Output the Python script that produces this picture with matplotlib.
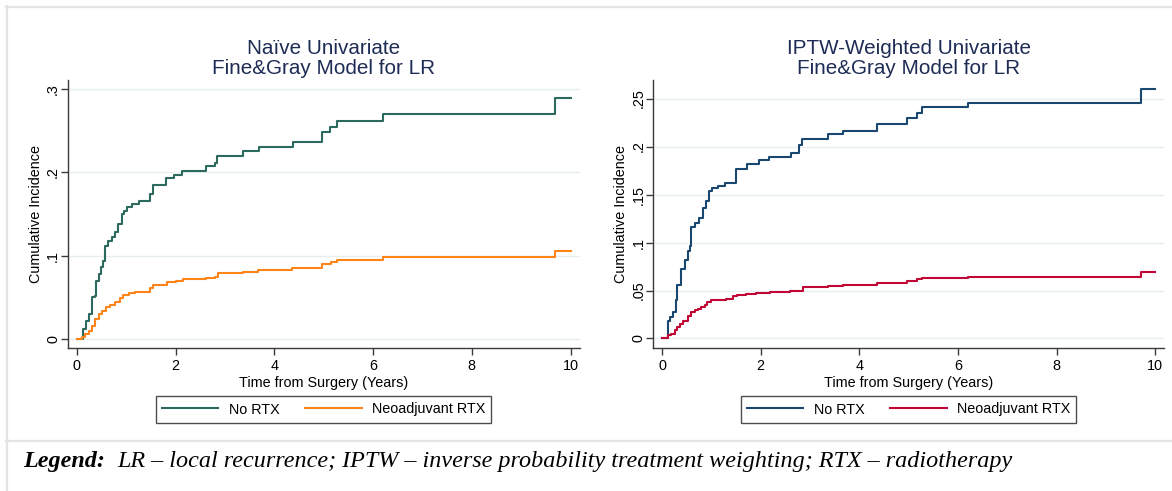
import matplotlib
matplotlib.use("Agg")
import matplotlib.pyplot as plt
from matplotlib.lines import Line2D

# ---- data (time in years, cumulative incidence) ----
naive_t_no = [0, 0.08, 0.12, 0.19, 0.24, 0.31, 0.37, 0.39, 0.44, 0.49, 0.53, 0.58, 0.64,
              0.71, 0.78, 0.83, 0.92, 0.96, 1.02, 1.12, 1.27, 1.48, 1.54, 1.80, 1.97, 2.14,
              2.61, 2.80, 2.85, 3.37, 3.70, 4.37, 4.96, 5.13, 5.27, 6.20, 9.69, 10.0]
naive_v_no = [0, 0, 0.012, 0.022, 0.030, 0.050, 0.052, 0.070, 0.078, 0.086, 0.094, 0.112,
              0.118, 0.122, 0.128, 0.138, 0.150, 0.154, 0.158, 0.162, 0.165, 0.174, 0.185,
              0.193, 0.197, 0.202, 0.207, 0.211, 0.220, 0.225, 0.230, 0.236, 0.248, 0.254,
              0.262, 0.270, 0.289, 0.289]

naive_t_neo = [0, 0.07, 0.10, 0.17, 0.24, 0.31, 0.37, 0.44, 0.51, 0.59, 0.68, 0.78, 0.87,
               0.94, 1.05, 1.17, 1.49, 1.55, 1.82, 2.00, 2.16, 2.62, 2.80, 2.86, 3.36, 3.68,
               4.35, 4.96, 5.15, 5.27, 6.20, 9.69, 10.0]
naive_v_neo = [0, 0, 0.002, 0.006, 0.010, 0.016, 0.024, 0.030, 0.034, 0.039, 0.041, 0.045,
               0.049, 0.053, 0.055, 0.057, 0.061, 0.065, 0.068, 0.070, 0.072, 0.073, 0.075,
               0.079, 0.080, 0.083, 0.085, 0.090, 0.092, 0.095, 0.098, 0.106, 0.106]

iptw_t_no = [0, 0.09, 0.12, 0.17, 0.22, 0.28, 0.31, 0.39, 0.46, 0.53, 0.56, 0.58, 0.67,
             0.75, 0.83, 0.90, 0.95, 1.02, 1.14, 1.27, 1.51, 1.72, 1.97, 2.16, 2.62, 2.78,
             2.84, 3.37, 3.67, 4.36, 4.97, 5.16, 5.27, 6.20, 9.70, 10.0]
iptw_v_no = [0, 0, 0.0185, 0.022, 0.028, 0.040, 0.056, 0.072, 0.082, 0.091, 0.096, 0.116,
             0.120, 0.126, 0.136, 0.143, 0.154, 0.157, 0.159, 0.162, 0.177, 0.182, 0.186,
             0.1895, 0.193, 0.202, 0.208, 0.213, 0.216, 0.223, 0.230, 0.235, 0.241, 0.245,
             0.260, 0.260]

iptw_t_neo = [0, 0.09, 0.12, 0.19, 0.26, 0.31, 0.36, 0.43, 0.53, 0.58, 0.67, 0.73, 0.80,
              0.87, 0.92, 1.00, 1.29, 1.44, 1.53, 1.70, 1.90, 2.19, 2.60, 2.78, 2.85, 3.37,
              3.67, 4.35, 4.97, 5.17, 5.27, 6.20, 9.70, 10.0]
iptw_v_neo = [0, 0, 0.0035, 0.005, 0.009, 0.012, 0.015, 0.0185, 0.023, 0.028, 0.030, 0.031,
              0.033, 0.035, 0.0385, 0.040, 0.041, 0.044, 0.045, 0.046, 0.047, 0.048, 0.049,
              0.0495, 0.0535, 0.055, 0.056, 0.0578, 0.060, 0.062, 0.063, 0.064, 0.069, 0.069]

x_ticks = [0, 2, 4, 6, 8, 10]
naive_yticks = [0, 0.1, 0.2, 0.3]
naive_ylabels = ["0", ".1", ".2", ".3"]
iptw_yticks = [0, 0.05, 0.1, 0.15, 0.2, 0.25]
iptw_ylabels = ["0", ".05", ".1", ".15", ".2", ".25"]

series_names = ["No RTX", "Neoadjuvant RTX"]
titles = ["Naïve Univariate\nFine&Gray Model for LR",
          "IPTW-Weighted Univariate\nFine&Gray Model for LR"]
footnote_bold = "Legend:"
footnote_rest = "LR – local recurrence; IPTW – inverse probability treatment weighting; RTX – radiotherapy"

plt.rcParams['font.family'] = ['Liberation Sans', 'DejaVu Sans']

W, H = 1172, 491
fig = plt.figure(figsize=(W / 100, H / 100), dpi=100)
fig.patch.set_facecolor("white")

def px(x0, y0, x1, y1):
  # pixel box (top-left origin) -> figure fraction rect
  return [x0 / W, (H - y1) / H, (x1 - x0) / W, (y1 - y0) / H]

panels = [
  dict(rect=px(67.7, 80, 579.6, 348), ylim=(-0.0108, 0.3108), yt=naive_yticks, yl=naive_ylabels,
       data=[(naive_t_no, naive_v_no), (naive_t_neo, naive_v_neo)],
       colors=["#2c6a5e", "#ff8418"], legx=323.6),
  dict(rect=px(652.9, 80, 1164.4, 348), ylim=(-0.0099, 0.2693), yt=iptw_yticks, yl=iptw_ylabels,
       data=[(iptw_t_no, iptw_v_no), (iptw_t_neo, iptw_v_neo)],
       colors=["#1a476f", "#c10534"], legx=908.6),
]

axcol = "#3a3a3a"
fs = 10.4
for i, p in enumerate(panels):
  ax = fig.add_axes(p["rect"])
  for (t, v), c, name in zip(p["data"], p["colors"], series_names):
    ax.plot(t, v, drawstyle="steps-post", color=c, lw=1.5, label=name, zorder=3)
  ax.set_xlim(-0.184, 10.184)
  ax.set_ylim(*p["ylim"])
  ax.set_xticks(x_ticks)
  ax.set_xticklabels([str(x) for x in x_ticks])
  ax.set_yticks(p["yt"])
  ax.set_yticklabels(p["yl"], rotation=90, va="center")
  ax.grid(axis="y", color="#e8efef", lw=1.0, zorder=0)
  for s in ["top", "right"]:
    ax.spines[s].set_visible(False)
  for s in ["left", "bottom"]:
    ax.spines[s].set_color(axcol)
    ax.spines[s].set_linewidth(1.0)
  ax.tick_params(direction="out", length=5, width=1.0, color=axcol, labelsize=fs,
                 labelcolor="black")
  ax.tick_params(axis="x", pad=3)
  ax.tick_params(axis="y", pad=0.4)
  ax.set_xlabel("Time from Surgery (Years)", fontsize=fs, labelpad=2)
  ax.set_ylabel("Cumulative Incidence", fontsize=fs, labelpad=2.5)
  ax.set_title(titles[i], fontsize=14.9, color="#1e2c55", pad=4, linespacing=1.08)
  leg = ax.legend(loc="center", bbox_to_anchor=(p["legx"] / W, (H - 409.5) / H),
                  bbox_transform=fig.transFigure, ncol=2, fontsize=fs, frameon=True,
                  fancybox=False, shadow=False, handlelength=3.9, handletextpad=0.7,
                  columnspacing=1.8, borderpad=0.42, borderaxespad=0)
  leg.get_frame().set_edgecolor("#222222")
  leg.get_frame().set_linewidth(1.0)

# outer frame lines and footnote separator
fcol = "#e3e3e3"
fig.add_artist(Line2D([6 / W, 1], [(H - 6.5) / H] * 2, color=fcol, lw=1.6, transform=fig.transFigure))
fig.add_artist(Line2D([6.5 / W] * 2, [0, (H - 6) / H], color=fcol, lw=1.6, transform=fig.transFigure))
fig.add_artist(Line2D([6 / W, 1], [(H - 441) / H] * 2, color=fcol, lw=1.6, transform=fig.transFigure))

# footnote
ffs = 17.4
t1 = fig.text(23 / W, (H - 467) / H, footnote_bold, family="Liberation Serif", style="italic",
              weight="bold", fontsize=ffs, va="baseline", ha="left")
fig.canvas.draw()
bb = t1.get_window_extent()
fig.text((bb.x1 + 12) / W, (H - 467) / H, footnote_rest, family="Liberation Serif",
         style="italic", fontsize=ffs, va="baseline", ha="left")

fig.savefig("out.png", dpi=100)
